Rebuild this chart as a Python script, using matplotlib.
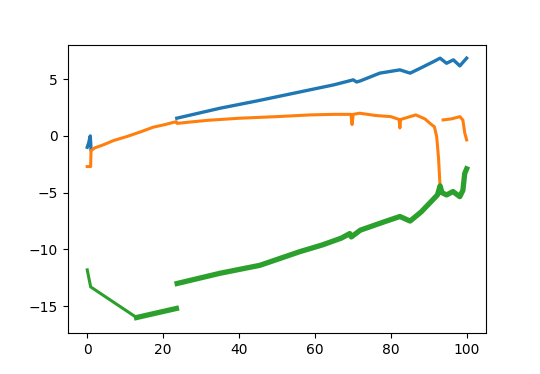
import numpy as np
import matplotlib
matplotlib.use('Agg')
import matplotlib.pyplot as plt

nan = np.nan

# serie azul (C0)
x_blue = [0, 0.4, 0.8, 1.0, nan, 23.6, 35, 45, 58.7, 65, 68.5, 70.1, 71, 72, 77.1, 82.4, 85.1, 88, 91, 93, 94.7, 96.5, 98.2, 100]
y_blue = [-1.0, -0.6, 0.0, -1.2, nan, 1.56, 2.44, 3.1, 4.06, 4.5, 4.8, 4.94, 4.75, 4.85, 5.53, 5.82, 5.53, 6.0, 6.5, 6.85, 6.4, 6.7, 6.17, 6.85]

# serie naranja (C1)
x_orange = [0, 0.9, 1.0, 2.0, 4.2, 7.0, 10.4, 14.0, 17.4, 20.5, 23.5, 23.7, 27, 32, 40.2, 50, 58.7, 65, 69.5, 69.8, 70.1, 71.8,
            76, 80, 82.2, 82.4, 82.6, 86.6, 89, 90.3, 91.5, 92.1, 92.6, 93.0, nan, 93.8, 96, 98.2, 99.0, 99.5, 100]
y_orange = [-2.7, -2.7, -1.3, -1.05, -0.79, -0.4, -0.06, 0.35, 0.77, 1.0, 1.26, 1.1, 1.22, 1.38, 1.56, 1.7, 1.85, 1.9, 1.9, 1.0,
            1.9, 2.0, 1.8, 1.7, 1.45, 0.7, 1.45, 1.85, 1.5, 1.12, 0.8, -0.06, -2.0, -4.5, nan, 1.41, 1.5, 1.7, 1.4, 0.26, -0.35]

# serie verde (C2)
x_green = [0, 0.9, 13.0, 23.5, nan, 23.7, 35, 45.5, 56, 62, 67, 69.2, 69.6, 72, 78, 82.4, 85.1, 88, 90.3, 92.3, 93.0, 93.5,
           94.7, 96.4, 98.2, 99.0, 99.5, 100]
y_green = [-11.8, -13.3, -16.0, -15.2, nan, -13.0, -12.1, -11.4, -10.2, -9.6, -9.0, -8.6, -8.9, -8.3, -7.6, -7.1, -7.5, -6.7,
           -5.9, -5.2, -4.4, -5.0, -5.2, -4.9, -5.35, -4.8, -3.3, -2.9]

fig = plt.figure(figsize=(5.4, 3.74), dpi=100)
ax = fig.add_subplot(111)

ax.plot(x_blue, y_blue, color='C0', lw=2.4)
ax.plot(x_orange, y_orange, color='C1', lw=2.2)

# la banda verde es más estrecha al principio
xg = np.array(x_green)
yg = np.array(y_green)
ax.plot(xg, yg, color='C2', lw=2.2)
ancho = np.where(xg >= 13.0, yg, nan)
ax.plot(xg, ancho, color='C2', lw=3.8)

ax.set_xlim(-5.2, 105.1)
ax.set_ylim(-17.35, 8.02)

fig.savefig('out.png', dpi=100)
